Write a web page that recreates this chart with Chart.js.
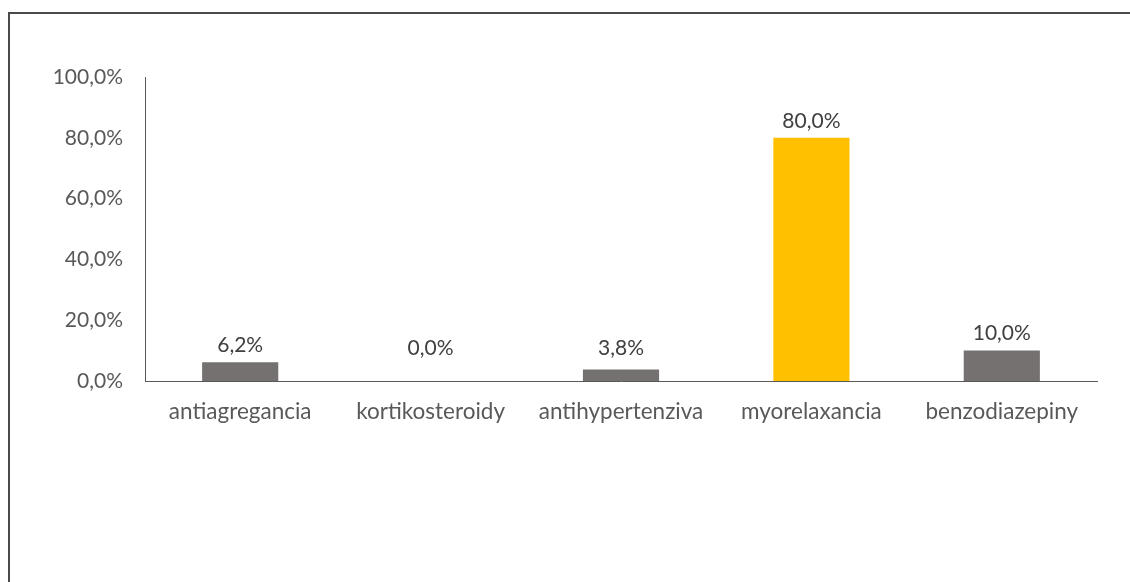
<!DOCTYPE html>
<html>
<head>
<meta charset="utf-8">
<script src="https://cdn.jsdelivr.net/npm/chart.js@4"></script>
<style>
  html, body { margin: 0; padding: 0; background: #fff; overflow: hidden; }
  #wrap { position: relative; width: 1130px; height: 582px; }
  #frame {
    position: absolute; left: 8px; top: 12px; width: 1200px; height: 700px;
    border-top: 2px solid #4a4a4a; border-left: 2px solid #4a4a4a;
    pointer-events: none;
  }
  canvas { position: absolute; left: 0; top: 0; }
</style>
</head>
<body>
<div id="wrap">
  <canvas id="chart" width="1130" height="582"></canvas>
  <div id="frame"></div>
</div>
<script>
const categories = ['antiagregancia', 'kortikosteroidy', 'antihypertenziva', 'myorelaxancia', 'benzodiazepiny'];
const values = [6.2, 0.0, 3.8, 80.0, 10.0];
const barColors = ['#767171', '#767171', '#767171', '#FFC000', '#767171'];
const yTicks = [0, 20, 40, 60, 80, 100];

const textColor = '#595959';
const fontFamily = 'Lato, "Open Sans", sans-serif';

function fmt(v) {
    return v.toFixed(1).replace('.', ',') + '%';
}

// Draw the value labels above each bar (small bars keep a minimum gap from the axis)
const valueLabels = {
    id: 'valueLabels',
    afterDatasetsDraw(chart) {
        const ctx = chart.ctx;
        const meta = chart.getDatasetMeta(0);
        const base = chart.scales.y.getPixelForValue(0);
        ctx.save();
        ctx.font = '21px ' + fontFamily;
        ctx.fillStyle = '#404040';
        ctx.textAlign = 'center';
        ctx.textBaseline = 'middle';
        meta.data.forEach((bar, i) => {
            const y = Math.min(bar.y - 17, base - 33);
            ctx.fillText(fmt(values[i]), bar.x, y);
        });
        ctx.restore();
    }
};

new Chart(document.getElementById('chart').getContext('2d'), {
    type: 'bar',
    data: {
        labels: categories,
        datasets: [{
            data: values,
            backgroundColor: barColors,
            categoryPercentage: 1.0,
            barPercentage: 0.4
        }]
    },
    options: {
        responsive: false,
        animation: false,
        layout: { padding: { top: 77, right: 33, left: 0, bottom: 0 } },
        plugins: {
            legend: { display: false },
            tooltip: { enabled: false }
        },
        scales: {
            x: {
                grid: { display: false, drawTicks: false },
                border: { display: true, color: '#595959', width: 1 },
                ticks: {
                    color: textColor,
                    font: { family: fontFamily, size: 22.5 },
                    padding: 17
                },
                afterFit(scale) { scale.height = 201; }
            },
            y: {
                min: 0,
                max: 100,
                grid: { display: false, drawTicks: false },
                border: { display: true, color: '#595959', width: 1 },
                afterBuildTicks(scale) {
                    scale.ticks = yTicks.map(v => ({ value: v }));
                },
                ticks: {
                    color: textColor,
                    font: { family: fontFamily, size: 21 },
                    padding: 22,
                    callback: (v) => fmt(v)
                },
                afterFit(scale) { scale.width = 145; }
            }
        }
    },
    plugins: [valueLabels]
});
</script>
</body>
</html>
